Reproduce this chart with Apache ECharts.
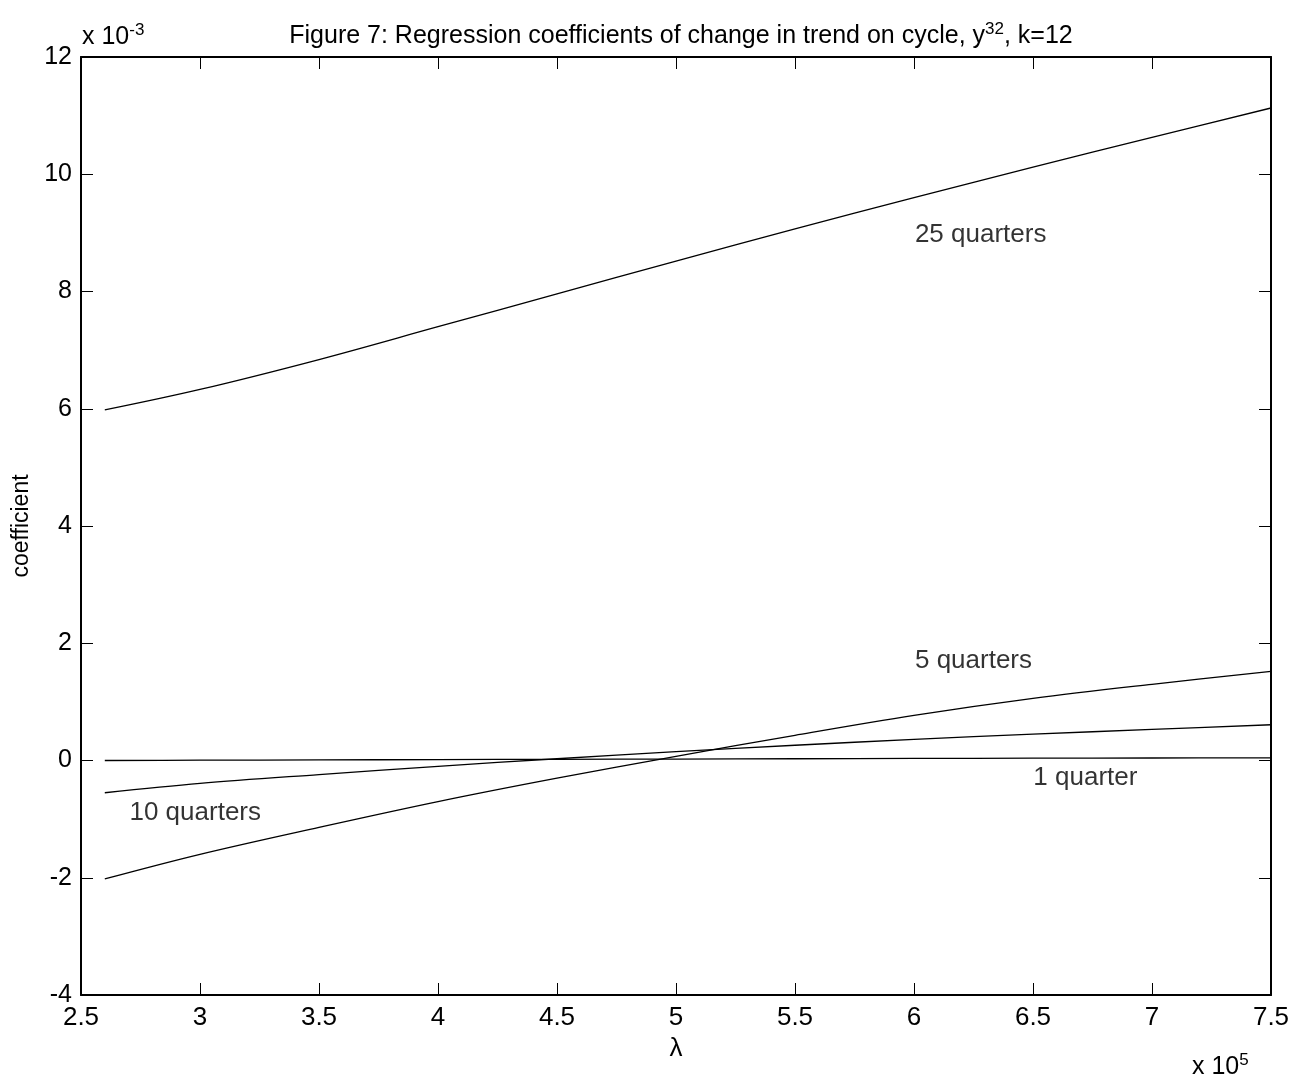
<!DOCTYPE html>
<html><head><meta charset="utf-8">
<script src="https://cdn.jsdelivr.net/npm/echarts@6/dist/echarts.min.js"></script>
<style>html,body{margin:0;padding:0;background:#fff}#c{width:1294px;height:1081px}</style>
</head><body><div id="c"></div>
<script>
// lambda in units of 1e5, coefficients in units of 1e-3
const lambda = [2.6, 3.0, 3.5, 4.0, 4.5, 5.0, 5.5, 6.0, 6.5, 7.0, 7.5];
const q1  = [0.00, 0.005, 0.01, 0.015, 0.02, 0.025, 0.03, 0.035, 0.04, 0.043, 0.045];
const q5  = [-2.02, -1.60, -1.14, -0.70, -0.30, 0.07, 0.43, 0.77, 1.06, 1.30, 1.52];
const q10 = [-0.55, -0.39, -0.24, -0.10, 0.03, 0.15, 0.26, 0.36, 0.45, 0.53, 0.61];
const q25 = [5.98, 6.33, 6.84, 7.40, 7.96, 8.52, 9.07, 9.60, 10.12, 10.63, 11.13];
const xTicks = [2.5, 3, 3.5, 4, 4.5, 5, 5.5, 6, 6.5, 7, 7.5];
const yTicks = [-4, -2, 0, 2, 4, 6, 8, 10, 12];
const annotations = [
  [6.28, 8.97, '25 quarters'],
  [6.25, 1.70, '5 quarters'],
  [6.72, -0.30, '1 quarter'],
  [2.98, -0.90, '10 quarters']
];

const FONT = 'Liberation Sans, Arial, Helvetica, sans-serif';
const chart = echarts.init(document.getElementById('c'), null, {renderer: 'canvas'});
const pairs = arr => lambda.map((x, i) => [x, arr[i]]);
const lineSeries = (name, arr) => ({
  name, type: 'line', data: pairs(arr), showSymbol: false, symbol: 'none',
  smooth: 0.35,
  lineStyle: {color: '#000', width: 1.3}, xAxisIndex: 0, yAxisIndex: 0, silent: true
});
const axisCommon = {
  axisLine: {show: true, onZero: false, lineStyle: {color: '#000', width: 2}},
  axisTick: {show: true, inside: true, length: 12, lineStyle: {color: '#000', width: 1}},
  splitLine: {show: false}
};
const supRich = {sup: {fontSize: 17, fontFamily: FONT, color: '#000', fill: '#000', padding: [0, 0, 13, 0]}};
chart.setOption({
  animation: false,
  backgroundColor: '#fff',
  title: {
    text: 'Figure 7: Regression coefficients of change in trend on cycle, y{sup|32}, k=12',
    left: 676, top: 16, textAlign: 'center',
    textStyle: {
      fontFamily: FONT, fontSize: 25, fontWeight: 'normal', color: '#000',
      rich: supRich
    }
  },
  grid: {left: 81, right: 23, top: 57, bottom: 86, containLabel: false},
  xAxis: [
    Object.assign({}, axisCommon, {
      type: 'value', min: xTicks[0], max: xTicks[xTicks.length - 1], interval: 0.5,
      position: 'bottom', name: 'λ', nameLocation: 'middle', nameGap: 40,
      nameTextStyle: {fontFamily: FONT, fontSize: 26, color: '#000'},
      axisLabel: {fontFamily: FONT, fontSize: 26, color: '#000', margin: 10, formatter: v => String(v)}
    }),
    Object.assign({}, axisCommon, {
      type: 'value', min: xTicks[0], max: xTicks[xTicks.length - 1], interval: 0.5,
      position: 'top', axisLabel: {show: false}
    })
  ],
  yAxis: [
    Object.assign({}, axisCommon, {
      type: 'value', min: yTicks[0], max: yTicks[yTicks.length - 1], interval: 2,
      position: 'left', name: 'coefficient', nameLocation: 'middle', nameGap: 47,
      nameTextStyle: {fontFamily: FONT, fontSize: 23, color: '#000'},
      axisLabel: {fontFamily: FONT, fontSize: 25, color: '#000', margin: 9}
    }),
    Object.assign({}, axisCommon, {
      type: 'value', min: yTicks[0], max: yTicks[yTicks.length - 1], interval: 2,
      position: 'right', axisLabel: {show: false}
    })
  ],
  graphic: [
    {type: 'text', left: 82, top: 22, style: {
      text: 'x 10{sup|-3}', fill: '#000', font: '25px ' + FONT, rich: supRich
    }},
    {type: 'text', left: 1192, top: 1052, style: {
      text: 'x 10{sup|5}', fill: '#000', font: '25px ' + FONT, rich: supRich
    }}
  ],
  series: [
    lineSeries('1 quarter', q1),
    lineSeries('5 quarters', q5),
    lineSeries('10 quarters', q10),
    lineSeries('25 quarters', q25),
    {
      type: 'scatter', symbolSize: 0, silent: true,
      data: annotations.map(a => ({value: [a[0], a[1]], name: a[2]})),
      label: {show: true, position: 'inside', formatter: p => p.name,
        fontFamily: FONT, fontSize: 26, color: '#000'}
    }
  ]
});
</script></body></html>
